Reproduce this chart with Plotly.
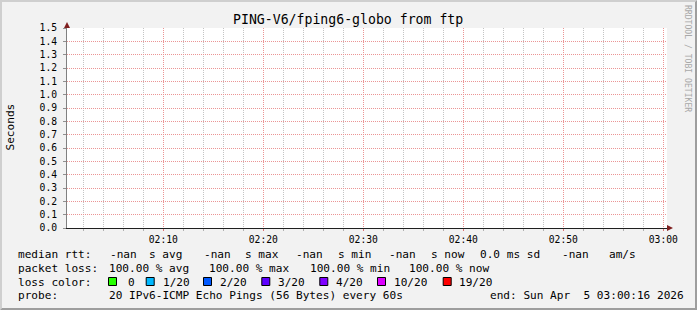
import plotly.graph_objects as go

# ---------------- data ----------------
title_text = "PING-V6/fping6-globo from ftp"
y_label = "Seconds"
times = ["2026-04-05 02:00:22", "2026-04-05 03:00:22"]
median_rtt = [None, None]          # all samples are NaN (100% loss)
x_range = ["2026-04-05 02:00:22", "2026-04-05 03:00:22"]
y_range = [0, 1.5]

median_labels = ["median rtt:", "-nan", "s avg", "-nan", "s max", "-nan", "s min",
                 "-nan", "s now", "0.0 ms sd", "-nan", "am/s"]
loss_labels = ["packet loss:", "100.00 % avg", "100.00 % max", "100.00 % min", "100.00 % now"]
loss_color_names = ["0", "1/20", "2/20", "3/20", "4/20", "10/20", "19/20"]
loss_colors = ["#26ff00", "#00b8ff", "#0059ff", "#5e00ff", "#7e00ff", "#dd00ff", "#ff0000"]
probe_labels = ["probe:", "20 IPv6-ICMP Echo Pings (56 Bytes) every 60s",
                "end: Sun Apr  5 03:00:16 2026"]
watermark = "RRDTOOL / TOBI OETIKER"

# ---------------- layout geometry (pixels) ----------------
W, H = 697, 310
L, R, T, B = 67, 667, 28, 228
FONT = "DejaVu Sans Mono"


def px(x):
    return (x - L) / (R - L)


def py(y):
    return (B - y) / (B - T)


fig = go.Figure()
fig.add_trace(go.Scatter(x=times, y=median_rtt, mode="lines",
                         line=dict(color="#000000", width=1), showlegend=False))

annotations = []
shapes = []


def txt(x, y, s, size=11.1, color="#000000", xanchor="left", angle=0):
    annotations.append(dict(x=px(x), y=py(y), xref="paper", yref="paper", text=s,
                            showarrow=False, xanchor=xanchor, yanchor="middle",
                            textangle=angle,
                            font=dict(family=FONT, size=size, color=color)))


# title
txt(348, 19.5, title_text, size=13.2, xanchor="center")
# y label
txt(10, 127.5, y_label, size=11.1, xanchor="center", angle=-90)
# watermark
txt(688, 58, watermark, size=8.1, color="#a8a8a8", xanchor="center", angle=90)

# legend rows
row_y = [254.5, 268.3, 282.0, 295.8]
med_x = [16, 108.3, 146.7, 201.7, 242.7, 294, 336, 386.7, 429, 478.3, 560, 606.7]
for x, s in zip(med_x, median_labels):
    txt(x, row_y[0], s)
loss_x = [16, 107.3, 207.3, 308.3, 406.7]
for x, s in zip(loss_x, loss_labels):
    txt(x, row_y[1], s)
txt(16, row_y[2], "loss color:")
box_x = [108, 145.7, 203, 261.3, 319.3, 377, 442.7]
lbl_x = [126, 160.7, 217.7, 276, 333.5, 391.5, 456.7]
for bx, lx, name, col in zip(box_x, lbl_x, loss_color_names, loss_colors):
    shapes.append(dict(type="rect", xref="paper", yref="paper",
                       x0=px(bx + 0.5), x1=px(bx + 8.5), y0=py(277.5), y1=py(285.5),
                       fillcolor=col, line=dict(color="#000000", width=1)))
    txt(lx, row_y[2], name)
probe_x = [16, 107.3, 487.7]
for x, s in zip(probe_x, probe_labels):
    txt(x, row_y[3], s)

# frame shading (rrdtool 3D border)
shapes.append(dict(type="path", xref="paper", yref="paper", layer="above",
                   path=f"M {px(0)},{py(0)} L {px(W)},{py(0)} L {px(W-2)},{py(2)} L {px(2)},{py(2)} "
                        f"L {px(2)},{py(H-2)} L {px(0)},{py(H)} Z",
                   fillcolor="#cfcfcf", line=dict(width=0)))
shapes.append(dict(type="path", xref="paper", yref="paper", layer="above",
                   path=f"M {px(W)},{py(0)} L {px(W)},{py(H)} L {px(0)},{py(H)} L {px(2)},{py(H-2)} "
                        f"L {px(W-2)},{py(H-2)} L {px(W-2)},{py(2)} Z",
                   fillcolor="#9e9e9e", line=dict(width=0)))

# axis arrows
arrow_col = "#7f1f1f"
shapes.append(dict(type="path", xref="paper", yref="paper", layer="above",
                   path=f"M {px(64)},{py(28)} L {px(70)},{py(28)} L {px(67)},{py(22)} Z",
                   fillcolor=arrow_col, line=dict(width=0)))
shapes.append(dict(type="path", xref="paper", yref="paper", layer="above",
                   path=f"M {px(667)},{py(225)} L {px(667)},{py(231)} L {px(673)},{py(228)} Z",
                   fillcolor=arrow_col, line=dict(width=0)))

MAJOR = "#eb9595"
MINOR = "#c4c4c4"
fig.update_layout(
    width=W, height=H,
    margin=dict(l=L, r=W - R, t=T, b=H - B, pad=0),
    paper_bgcolor="#f2f2f2", plot_bgcolor="#ffffff",
    font=dict(family=FONT, size=9.7, color="#000000"),
    showlegend=False,
    annotations=annotations, shapes=shapes,
)
fig.update_xaxes(
    type="date", range=x_range, tick0="2026-04-05 02:00:00", dtick=600000,
    tickformat="%H:%M", showgrid=True, gridcolor=MAJOR,
    griddash="1px,1px", gridwidth=1,
    minor=dict(dtick=120000, tick0="2026-04-05 02:00:00", showgrid=True,
               gridcolor=MINOR, griddash="1px,1px", gridwidth=1,
               ticks="outside", ticklen=2, tickcolor="#b0b0b0"),
    ticks="outside", ticklen=2, tickcolor="#d87070",
    showline=True, linecolor="#1f1f1f", linewidth=1, zeroline=False,
    tickfont=dict(family=FONT, size=9.7, color="#000000"), fixedrange=True,
)
fig.update_yaxes(
    range=y_range, dtick=0.1, tick0=0, tickformat=".1f",
    showgrid=True, gridcolor=MAJOR, griddash="1px,1px", gridwidth=1,
    ticks="outside", ticklen=3, tickcolor="#8f8f8f", ticklabelstandoff=4,
    showline=True, linecolor="#808080", linewidth=1, zeroline=False,
    tickfont=dict(family=FONT, size=9.7, color="#000000"), fixedrange=True,
)

fig.write_html("out.html")
